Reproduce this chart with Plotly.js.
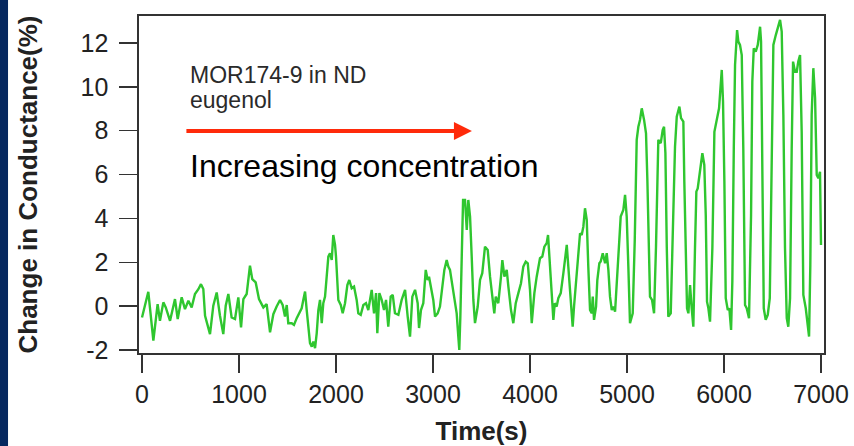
<!DOCTYPE html>
<html>
<head>
<meta charset="utf-8">
<script src="https://cdn.plot.ly/plotly-3.0.1.min.js"></script>
<style>
  html, body { margin: 0; padding: 0; background: #ffffff; }
  #chart { width: 854px; height: 446px; }
</style>
</head>
<body>
<div id="chart"></div>
<script>
// Time (s)
const timeSec = [
  0,65,117,161,185,220,245,289,340,368,409,443,478,512,546,581,608,632,650,701,735,770,804,838,863,890,924,959,993,1021,1045,1079,1113,1137,1172,1206,1251,1285,1320,1354,
  1388,1423,1450,1474,1492,1508,1543,1567,1595,1622,1646,1663,1681,1698,1715,1732,1750,1766,1784,1801,1818,1835,1853,1869,1887,1904,1921,1938,1956,1972,1990,2000,2024,2049,2069,2093,2117,2137,2162,2186,2213,2230,2255,2282,2309,2333,2368,2392,2413,2426,2447,2471,2495,2516,2539,2564,2585,2608,2643,2677,2712,2739,2763,
  2787,2815,2842,2856,2876,2900,2925,2945,2959,2980,3003,3021,3048,3072,3096,3117,3141,3158,3175,3193,3220,3244,3261,3271,3282,3296,3310,3330,3348,3364,3382,3399,3416,3433,3461,3485,3508,3536,3564,3588,3612,3632,3647,3673,3701,3715,3736,3760,3777,3804,3828,3853,3880,3907,3931,3956,3977,4000,4018,4045,4069,4103,4127,4148,
  4172,4186,4200,4213,4227,4241,4255,4275,4292,4317,4344,4364,4379,4395,4420,4440,4454,4475,4498,4516,4533,4550,4567,4585,4601,4619,4636,4647,4660,4681,4694,4715,4729,4750,4774,4791,4808,4825,4843,4859,4877,4900,4921,4935,4962,4980,4997,5014,5031,5059,5080,5100,5117,5134,5152,5176,5196,5210,5224,5237,5258,5279,5299,5313,5323,5348,5368,5382,5396,5410,5426,5451,5471,5495,5513,5540,
  5557,5581,5591,5605,5619,5633,5650,5667,5684,5701,5715,5729,5753,5777,5797,5812,5825,5839,5856,5880,5901,5925,5949,5977,5990,6004,6018,6039,6055,6073,6086,6101,6114,6135,6148,6165,6183,6199,6217,6234,6258,6279,6292,6307,6327,6348,6372,6382,6395,6410,6430,6451,6472,6492,6509,6534,6561,6578,6595,6612,6629,6647,6663,6681,6698,6712,6732,6750,6766,6784,6801,6818,6843,6863,6877,6890,6904,6921,6939,6956,6973,6990,7000
];

// Change in conductance (%)
const conductancePct = [
  -0.52,0.65,-1.58,0.09,-0.67,0.17,-0.06,-0.67,0.32,-0.59,0.40,-0.14,0.24,-0.06,0.55,0.77,1.0,0.78,-0.44,-1.28,0.02,0.62,-0.44,-1.28,0.02,0.55,-0.52,-0.59,0.40,-0.97,0.32,0.55,1.84,1.23,1.08,0.32,-0.06,0.09,-1.2,-0.37,
  -0.02,0.28,0.05,-0.48,0.05,-0.78,-0.78,-0.86,-0.55,-0.33,-0.1,0.28,0.66,-0.18,-1.09,-1.69,-1.85,-1.62,-1.92,-1.24,-0.18,0.28,-0.78,0.13,0.43,1.34,2.26,2.41,2.1,3.24,2.79,2.26,0.28,0.05,-0.33,0.13,0.96,1.19,0.81,0.89,0.28,-0.33,-0.4,0.05,0.13,-0.18,0.74,-0.33,0.59,-1.24,0.59,0.28,-0.18,0.28,-0.94,0.43,0.51,-0.33,-0.4,0.28,0.74,-0.48,-1.39,
  0.43,0.74,0.13,-1.0,-0.18,0.13,1.65,1.19,1.34,0.74,0.28,-0.48,-0.33,-0.02,0.89,1.65,2.1,1.8,1.65,1.12,0.28,-0.33,-1.39,-2.0,-0.48,3.02,4.84,4.84,3.47,4.84,4.08,2.26,0.28,-0.78,-0.02,1.19,1.5,2.71,2.56,1.34,0.28,-0.33,0.43,0.13,1.34,2.1,1.34,1.65,0.89,-0.18,-0.78,0.13,0.59,1.04,1.8,2.03,1.95,0.74,-0.78,0.59,1.34,2.18,2.26,2.71,
  2.87,3.24,2.26,1.19,-0.02,-0.63,0.13,-0.02,0.36,0.59,1.5,2.26,2.79,1.8,0.28,-0.94,-0.02,1.19,2.71,3.32,3.24,3.62,4.46,3.93,1.8,-0.18,-0.33,0.43,-0.63,-0.02,1.19,1.95,2.03,2.41,1.95,2.41,1.65,0.43,-0.18,-0.02,-0.25,1.8,3.02,4.08,4.38,5.07,4.08,1.8,-0.78,-0.33,3.02,7.58,8.18,8.49,9.02,8.49,7.88,5.75,2.41,0.43,0.28,-0.33,2.71,6.51,7.58,7.43,8.03,8.18,6.97,2.71,-0.48,-0.33,2.71,7.27,8.64,9.1,
  8.57,8.41,5.68,2.64,-0.1,-0.33,0.96,-0.1,-0.94,2.64,5.22,5.37,6.29,6.97,6.44,4.16,0.2,-0.1,-0.71,2.64,7.95,8.41,9.02,10.77,9.32,5.68,0.36,-0.18,-0.1,-1.09,1.12,7.2,11.0,12.59,12.06,11.91,11.45,7.2,0.05,-0.1,-0.55,4.16,10.24,11.76,11.6,11.91,12.74,12.06,7.2,-0.1,-0.63,-0.4,0.36,7.2,11.91,12.36,12.82,13.05,12.52,8.72,2.64,-0.55,-0.94,0.36,7.2,11.15,10.69,10.69,11.15,11.45,7.95,0.51,-0.1,-0.86,-1.39,1.88,8.72,10.85,9.48,5.98,5.83,6.13,2.79
];

const xTickVals = [0,1000,2000,3000,4000,5000,6000,7000];
const yTickVals = [-2,0,2,4,6,8,10,12];

const labelLine1 = "MOR174-9 in ND";
const labelLine2 = "eugenol";
const arrowLabel = "Increasing concentration";

const FONT = '"Liberation Sans", Arial, Helvetica, sans-serif';

const trace = {
  x: timeSec,
  y: conductancePct,
  type: 'scatter',
  mode: 'lines',
  line: { color: '#2fc62f', width: 2.4 },
  hoverinfo: 'x+y'
};

const axisCommon = {
  showline: true,
  linecolor: '#333333',
  linewidth: 1.6,
  mirror: true,
  ticks: 'outside',
  ticklen: 18,
  tickwidth: 1.4,
  tickcolor: '#333333',
  showgrid: false,
  zeroline: false,
  tickfont: { family: FONT, size: 25, color: '#222222' }
};

const layout = {
  width: 854,
  height: 446,
  margin: { l: 139, r: 30, t: 16, b: 93 },
  paper_bgcolor: '#ffffff',
  plot_bgcolor: '#ffffff',
  showlegend: false,
  font: { family: FONT },
  xaxis: Object.assign({}, axisCommon, {
    range: [-31, 7031],
    tickvals: xTickVals,
    ticktext: xTickVals.map(String),
    ticklabelstandoff: 0,
    title: { text: 'Time(s)', font: { family: FONT, size: 26, color: '#222222', weight: 'bold' }, standoff: 20 }
  }),
  yaxis: Object.assign({}, axisCommon, {
    range: [-2.14, 13.23],
    tickvals: yTickVals,
    ticktext: yTickVals.map(String),
    ticklabelstandoff: 6,
    title: { text: 'Change in Conductance(%)', font: { family: FONT, size: 26, color: '#222222', weight: 'bold' }, standoff: 35 }
  }),
  shapes: [
    { type: 'rect', xref: 'paper', yref: 'paper', x0: -0.21, x1: -0.1912, y0: -0.3, y1: 1.1,
      fillcolor: '#06285f', line: { width: 0 }, layer: 'above' }
  ],
  annotations: [
    { xref: 'paper', yref: 'paper', x: 0.0715, y: 0.825, xanchor: 'left', yanchor: 'middle',
      text: labelLine1, showarrow: false, font: { family: FONT, size: 23, color: '#2a2a2a' } },
    { xref: 'paper', yref: 'paper', x: 0.0715, y: 0.751, xanchor: 'left', yanchor: 'middle',
      text: labelLine2, showarrow: false, font: { family: FONT, size: 23, color: '#2a2a2a' } },
    { xref: 'paper', yref: 'paper', x: 0.486, y: 0.659, ax: -287, ay: 0,
      text: '', showarrow: true, arrowhead: 2, arrowsize: 0.9, arrowwidth: 4, arrowcolor: '#ff2a0a' },
    { xref: 'paper', yref: 'paper', x: 0.0715, y: 0.555, xanchor: 'left', yanchor: 'middle',
      text: arrowLabel, showarrow: false, font: { family: FONT, size: 32, color: '#000000' } }
  ]
};

Plotly.newPlot('chart', [trace], layout, { displayModeBar: false, staticPlot: true });
</script>
</body>
</html>
